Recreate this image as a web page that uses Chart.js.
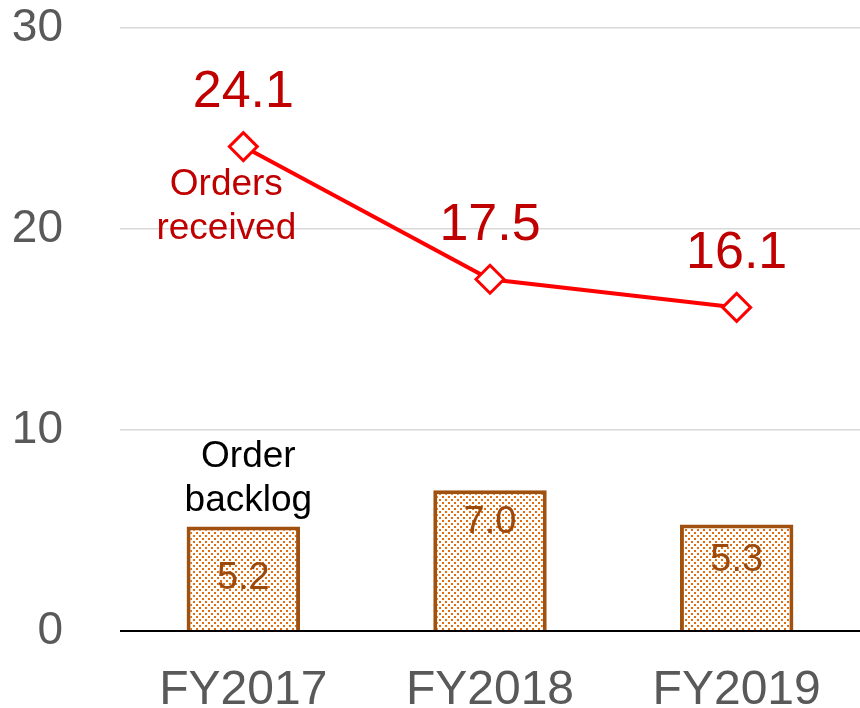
<!DOCTYPE html>
<html>
<head>
<meta charset="utf-8">
<script src="https://cdn.jsdelivr.net/npm/chart.js@4"></script>
<style>
    html, body { margin: 0; padding: 0; background: #fff; }
    #wrap { width: 860px; height: 708px; }
</style>
</head>
<body>
<div id="wrap"><canvas id="chart" width="860" height="708"></canvas></div>
<script>
const years = ['FY2017', 'FY2018', 'FY2019'];
const ordersReceived = [24.1, 17.5, 16.1];
const orderBacklog = [5.2, 7.0, 5.3];
const yTicks = [0, 10, 20, 30];
// where the backlog number sits inside each bar (value units)
const backlogLabelAt = [2.6, 5.4, 3.5];

const FONT = '"Liberation Sans", Arial, sans-serif';

function dotPattern() {
    const c = document.createElement('canvas');
    c.width = 6; c.height = 6;
    const g = c.getContext('2d');
    g.fillStyle = '#fff';
    g.fillRect(0, 0, 6, 6);
    g.fillStyle = '#E46C0A';
    g.fillRect(1, 1, 2, 2);
    g.fillRect(4, 4, 2, 2);
    return g.createPattern(c, 'repeat');
}

/** --- labels drawn on top --- **/
const labelPlugin = {
    id: 'labels',
    afterDatasetsDraw(chart) {
        const ctx = chart.ctx;
        const x = chart.scales.x, y = chart.scales.y;
        ctx.save();
        ctx.textAlign = 'center';
        ctx.textBaseline = 'middle';

        // orders received values
        ctx.fillStyle = '#C00000';
        ctx.font = `52px ${FONT}`;
        ordersReceived.forEach((v, i) => {
            ctx.fillText(v.toFixed(1), x.getPixelForValue(i), y.getPixelForValue(v) - 54);
        });

        // backlog values inside bars
        ctx.fillStyle = '#9C4A0C';
        ctx.font = `38px ${FONT}`;
        orderBacklog.forEach((v, i) => {
            ctx.fillText(v.toFixed(1), x.getPixelForValue(i), y.getPixelForValue(backlogLabelAt[i]));
        });

        // series names
        ctx.fillStyle = '#C00000';
        ctx.font = `37px ${FONT}`;
        const x0 = x.getPixelForValue(0);
        ctx.fillText('Orders', x0 - 17, y.getPixelForValue(22.2));
        ctx.fillText('received', x0 - 17, y.getPixelForValue(20.0));

        ctx.fillStyle = '#000';
        ctx.font = `37px ${FONT}`;
        ctx.fillText('Order', x0 + 5, y.getPixelForValue(8.65));
        ctx.fillText('backlog', x0 + 5, y.getPixelForValue(6.5));
        ctx.restore();
    }
};

new Chart(document.getElementById('chart'), {
    data: {
        labels: years,
        datasets: [
            {
                type: 'line',
                label: 'Orders received',
                data: ordersReceived,
                borderColor: '#FF0000',
                borderWidth: 4,
                pointStyle: 'rectRot',
                pointRadius: 14,
                pointBorderWidth: 3,
                pointBackgroundColor: '#fff',
                pointBorderColor: '#FF0000',
                tension: 0,
                order: 0
            },
            {
                type: 'bar',
                label: 'Order backlog',
                data: orderBacklog,
                backgroundColor: dotPattern(),
                borderColor: '#A0500F',
                borderWidth: 4,
                borderSkipped: 'bottom',
                barPercentage: 0.46,
                categoryPercentage: 1,
                order: 1
            }
        ]
    },
    options: {
        responsive: false,
        animation: false,
        layout: { autoPadding: false, padding: { top: 28, right: 0, left: 0, bottom: 0 } },
        plugins: { legend: { display: false }, tooltip: { enabled: false } },
        scales: {
            x: {
                grid: { display: false, drawTicks: true, tickLength: 31, tickColor: 'transparent' },
                border: { display: false },
                ticks: { color: '#595959', font: { family: FONT, size: 48 }, padding: 0, maxRotation: 0 },
                afterFit(scale) {
                    scale.height = 77;
                    scale.paddingLeft = 0;
                    scale.paddingRight = 0;
                }
            },
            y: {
                min: 0,
                max: 30,
                afterBuildTicks(scale) { scale.ticks = yTicks.map(v => ({ value: v })); },
                grid: {
                    drawTicks: true,
                    tickLength: 57,
                    tickColor: 'transparent',
                    color: ctx => ctx.tick && ctx.tick.value === 0 ? '#000' : '#D9D9D9',
                    lineWidth: ctx => ctx.tick && ctx.tick.value === 0 ? 2 : 1.5
                },
                border: { display: false },
                ticks: { color: '#595959', font: { family: FONT, size: 46 }, padding: 0 },
                afterFit(scale) { scale.width = 120; }
            }
        }
    },
    plugins: [labelPlugin]
});
</script>
</body>
</html>
